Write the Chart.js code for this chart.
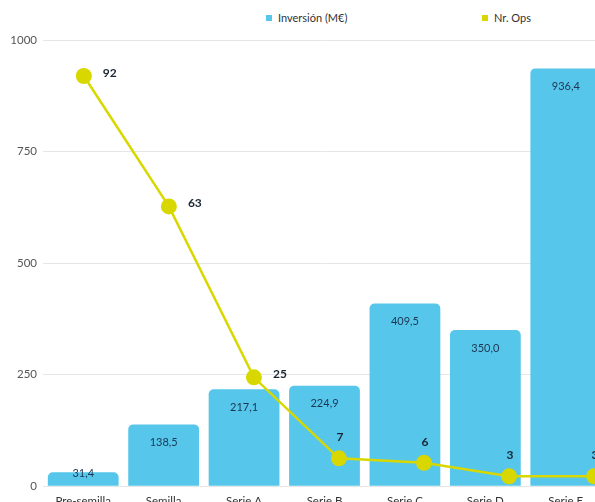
<!DOCTYPE html>
<html>
<head>
<meta charset="utf-8">
<script src="https://cdn.jsdelivr.net/npm/chart.js@4.4.1/dist/chart.umd.min.js"></script>
<style>
  html, body { margin: 0; padding: 0; background: #fff; }
  #wrap { position: relative; width: 595px; height: 502px; overflow: hidden; font-family: Lato, sans-serif; }
  #chartBox { position: absolute; left: 0; top: 0; width: 614px; height: 508px; }
  .legend { position: absolute; top: 11px; font-size: 11px; color: #333; white-space: nowrap; }
  .legend span.box { display: inline-block; width: 6px; height: 6px; margin-right: 6px; vertical-align: 1px; }
</style>
</head>
<body>
<div id="wrap">
  <div class="legend" style="left:266px"><span class="box" style="background:#56c6ea"></span>Inversión (M€)</div>
  <div class="legend" style="left:482px"><span class="box" style="background:#d8d800"></span>Nr. Ops</div>
  <div id="chartBox"><canvas id="investChart"></canvas></div>
</div>
<script>
const categories = ['Pre-semilla', 'Semilla', 'Serie A', 'Serie B', 'Serie C', 'Serie D', 'Serie E'];
const inversion = [31.4, 138.5, 217.1, 224.9, 409.5, 350.0, 936.4];
const nrOps = [92, 63, 25, 7, 6, 3, 3];
const yTicks = [0, 250, 500, 750, 1000];

const barColor = '#56c6ea';
const lineColor = '#d8d800';

// draws the numbers on bars and points
const valueLabels = {
    id: 'valueLabels',
    afterDatasetsDraw(chart) {
        const ctx = chart.ctx;
        const base = chart.scales.y.getPixelForValue(0);
        ctx.save();
        ctx.textAlign = 'center';
        ctx.textBaseline = 'middle';

        // bars (dataset 1)
        ctx.font = '11px Lato';
        ctx.fillStyle = '#1d3653';
        chart.getDatasetMeta(1).data.forEach((bar, i) => {
            const y = Math.min(bar.y + 18, base - 13);
            ctx.fillText(inversion[i].toFixed(1).replace('.', ','), bar.x, y);
        });

        // line points (dataset 0)
        ctx.font = 'bold 12px Lato';
        ctx.fillStyle = '#1a2433';
        chart.getDatasetMeta(0).data.forEach((pt, i) => {
            if (nrOps[i] >= 20) {
                ctx.fillText(nrOps[i], pt.x + 26, pt.y - 3);
            } else {
                ctx.fillText(nrOps[i], pt.x + 1, pt.y - 21);
            }
        });
        ctx.restore();
    }
};

const ctx = document.getElementById('investChart').getContext('2d');
new Chart(ctx, {
    data: {
        labels: categories,
        datasets: [{
            type: 'line',
            label: 'Nr. Ops',
            // the line in the original runs on its own, slightly wider, x spacing
            data: nrOps.map((v, i) => ({ x: i, y: v })),
            xAxisID: 'x2',
            yAxisID: 'y2',
            borderColor: lineColor,
            backgroundColor: lineColor,
            borderWidth: 2.5,
            pointRadius: 8,
            pointHoverRadius: 8,
            pointBorderWidth: 0,
            tension: 0,
            clip: false,
            order: 0
        }, {
            type: 'bar',
            label: 'Inversión (M€)',
            data: inversion,
            xAxisID: 'x',
            yAxisID: 'y',
            backgroundColor: barColor,
            borderRadius: { topLeft: 5, topRight: 5 },
            borderSkipped: 'bottom',
            grouped: false,
            categoryPercentage: 0.88,
            barPercentage: 1,
            order: 1
        }]
    },
    options: {
        responsive: true,
        maintainAspectRatio: false,
        animation: false,
        layout: { padding: { top: 40, left: 10, right: 0, bottom: 0 } },
        plugins: {
            legend: { display: false },
            tooltip: { enabled: false }
        },
        scales: {
            x: {
                type: 'category',
                grid: { display: false },
                border: { display: false },
                ticks: { color: '#333', font: { family: 'Lato', size: 11.5 }, padding: 0, maxRotation: 0 }
            },
            x2: {
                type: 'linear',
                display: false,
                min: -0.48,
                max: 6.14
            },
            y: {
                min: 0,
                max: 1000,
                afterBuildTicks: axis => { axis.ticks = yTicks.map(v => ({ value: v })); },
                afterFit: axis => { axis.width = 33; },
                grid: { color: '#e6e6e6', drawTicks: false },
                border: { display: false },
                ticks: {
                    color: '#555',
                    font: { family: 'Lato', size: 11.5 },
                    padding: 6,
                    callback: v => String(v)
                }
            },
            y2: {
                display: false,
                min: 0.8,
                max: 100
            }
        }
    },
    plugins: [valueLabels]
});
</script>
</body>
</html>
